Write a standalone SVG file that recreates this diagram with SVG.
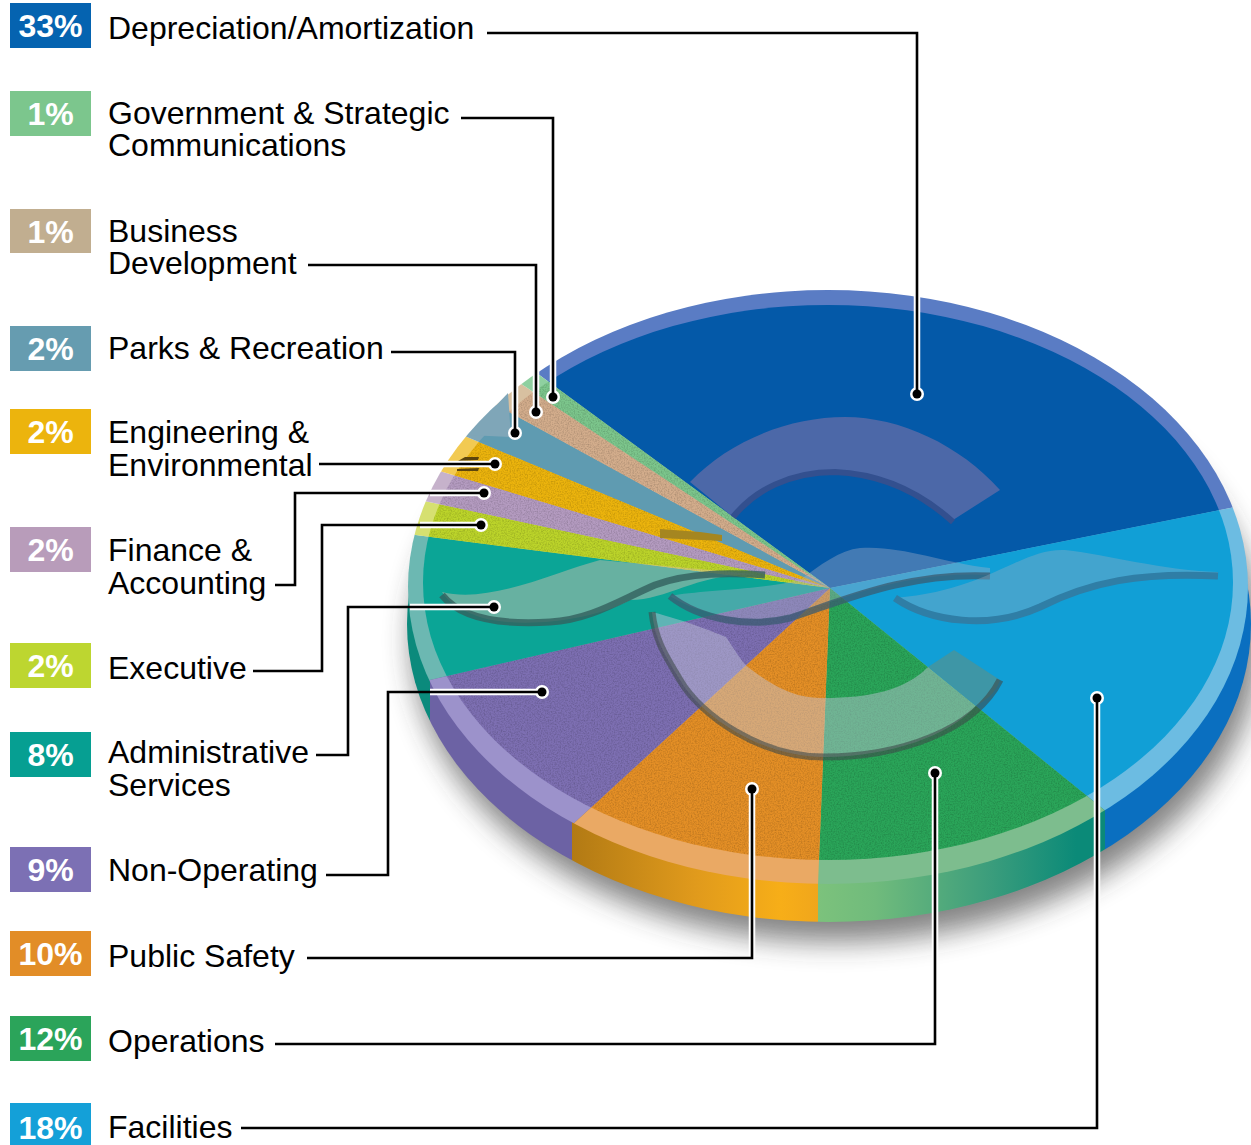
<svg xmlns="http://www.w3.org/2000/svg" width="1251" height="1145" viewBox="0 0 1251 1145">
<style>
.pct{font:bold 32px "Liberation Sans",Arial,sans-serif;fill:#fff;text-anchor:middle}
.lbl{font:32px "Liberation Sans",Arial,sans-serif;fill:#000}
.halo{fill:none;stroke:#fff;stroke-width:6.5}
.line{fill:none;stroke:#000;stroke-width:2.6}
.dotw{fill:#fff}
.dot{fill:#000}
</style>
<defs>
<clipPath id="sideClip"><ellipse cx="829" cy="624" rx="422" ry="298"/></clipPath>
<clipPath id="rimClip"><ellipse cx="828" cy="587" rx="420" ry="297"/></clipPath>
<clipPath id="faceClip"><ellipse cx="828" cy="582.5" rx="405" ry="277.5"/></clipPath>
<filter id="soft" x="-20%" y="-20%" width="140%" height="140%"><feGaussianBlur stdDeviation="14"/></filter>
<filter id="grain" x="0" y="0" width="100%" height="100%"><feTurbulence type="fractalNoise" baseFrequency=".7" numOctaves="2" seed="4"/><feColorMatrix type="matrix" values="0 0 0 0 0  0 0 0 0 0  0 0 0 0 0  1.6 0 0 0 -.62"/><feComposite in2="SourceAlpha" operator="in"/></filter>
<linearGradient id="sideOrange" gradientUnits="userSpaceOnUse" x1="572" y1="0" x2="818" y2="0"><stop offset="0" stop-color="#b27a14"/><stop offset=".5" stop-color="#e09a1c"/><stop offset=".85" stop-color="#f7ae18"/><stop offset="1" stop-color="#f0a61c"/></linearGradient>
<linearGradient id="sideGreen" gradientUnits="userSpaceOnUse" x1="818" y1="0" x2="1105" y2="0"><stop offset="0" stop-color="#7cc27c"/><stop offset=".2" stop-color="#70bb7c"/><stop offset=".6" stop-color="#3b9d7c"/><stop offset=".9" stop-color="#0b8a78"/><stop offset="1" stop-color="#0b8a78"/></linearGradient>
<polygon id="wDep" points="830,588 284,188 284,-100 1400,-100 1330,488"/>
<polygon id="wFac" points="830,588 1330,488 1500,488 1500,1012 1354,1012"/>
<polygon id="wOps" points="830,588 1354,1012 1354,1300 806,1300 806,1182"/>
<polygon id="wPub" points="830,588 806,1182 806,1300 314,1300 314,1062"/>
<polygon id="wNon" points="830,588 314,1062 30,1062 30,772"/>
<polygon id="wAdm" points="830,588 30,772 0,772 0,482"/>
<polygon id="wExe" points="830,588 0,482 10,412"/>
<polygon id="wFin" points="830,588 10,412 56,356"/>
<polygon id="wEng" points="830,588 56,356 104,286"/>
<polygon id="wPar" points="830,588 104,286 210,248"/>
<polygon id="wBus" points="830,588 210,248 270,218"/>
<polygon id="wGov" points="830,588 270,218 284,188"/>
</defs>

<g id="pie">
  <ellipse cx="836" cy="640" rx="424" ry="302" fill="#333" opacity=".6" filter="url(#soft)"/>
  <g id="pie-side" clip-path="url(#sideClip)">
    <rect x="400" y="560" width="30" height="400" fill="#0b8a7c"/>
    <rect x="430" y="560" width="142" height="400" fill="#6c62a4"/>
    <rect x="572" y="560" width="246" height="400" fill="url(#sideOrange)"/>
    <rect x="818" y="560" width="287" height="400" fill="url(#sideGreen)"/>
    <rect x="1105" y="560" width="160" height="400" fill="#0a6fc0"/>
  </g>
  <g id="pie-rim" clip-path="url(#rimClip)">
    <use href="#wDep" fill="#5a7cc4"/>
    <use href="#wFac" fill="#6cbce2"/>
    <use href="#wOps" fill="#7dbd8e"/>
    <use href="#wPub" fill="#eaa964"/>
    <use href="#wNon" fill="#9c92cb"/>
    <use href="#wAdm" fill="#6cb8b2"/>
    <use href="#wExe" fill="#d6e070"/>
    <use href="#wFin" fill="#c6b2cb"/>
    <use href="#wEng" fill="#f2ca52"/>
    <use href="#wPar" fill="#7fa6b8"/>
    <use href="#wBus" fill="#d8c0a0"/>
    <use href="#wGov" fill="#8fd0a0"/>
  </g>
  <g id="pie-face" clip-path="url(#faceClip)">
    <use href="#wDep" fill="#0459a8"/>
    <use href="#wFac" fill="#119fd6"/>
    <use href="#wOps" fill="#2aa559"/>
    <use href="#wPub" fill="#e48f26"/>
    <use href="#wNon" fill="#7d6fb2"/>
    <use href="#wAdm" fill="#0ba596"/>
    <use href="#wExe" fill="#bcd42a"/>
    <use href="#wFin" fill="#b49bc0"/>
    <use href="#wEng" fill="#ecb40d"/>
    <use href="#wPar" fill="#5f9bb1"/>
    <use href="#wBus" fill="#d3ad8c"/>
    <use href="#wGov" fill="#7cc68c"/>
    <g filter="url(#grain)" opacity=".22">
      <use href="#wOps"/><use href="#wPub"/><use href="#wNon"/><use href="#wExe"/><use href="#wFin"/><use href="#wEng"/><use href="#wBus"/><use href="#wGov"/>
    </g>
  </g>
  <polygon points="468,435 508,393 511,437" fill="#7fa6b8"/>
  <g id="pie-logo">
    <path d="M690,482 C730,440 790,417 845,417 C900,417 960,445 1000,490 L953,520 C920,490 880,472 835,470 C790,470 755,490 733,517 Z" fill="#4c68a8"/>
    <path d="M733,517 C755,490 790,472 835,472 C880,474 920,492 953,522" fill="none" stroke="#33508f" stroke-width="6"/>
    <polygon points="660,529 700,532 722,535 722,541 660,538" fill="#a58620"/>
    <path d="M652,612 C690,622 708,630 726,637 C735,650 740,660 748,667 C780,692 800,698 824,698 C870,698 905,690 928,667 L976,706 C950,735 890,757 824,757 C760,757 700,715 680,680 C665,655 655,640 652,612 Z" fill="#c5c7dc" opacity=".45"/>
    <path d="M928,667 L954,650 L1000,680 C995,695 985,700 976,706 Z" fill="#3e96a6"/>
    <path d="M652,612 C655,640 665,655 680,680 C700,715 760,757 824,757 C900,757 975,730 1000,680" fill="none" stroke="#3d4a4a" stroke-width="7" opacity=".6"/>
    <path d="M442,592 C490,604 555,572 600,560 L765,575 C700,570 670,600 630,600 C590,622 520,628 483,618 C465,612 450,605 442,592 Z" fill="#e8c0b0" opacity=".42"/>
    <path d="M442,595 C460,618 500,625 550,622 C590,620 620,600 655,585 C690,572 730,573 765,575" fill="none" stroke="#33605e" stroke-width="7" opacity=".8"/>
    <path d="M670,596 C700,615 750,625 790,615 C840,600 905,570 990,575 L990,568 C940,562 900,545 860,548 C840,550 820,565 800,580 C760,590 700,590 670,596 Z" fill="#a8b0c8" opacity=".38"/>
    <path d="M670,596 C700,620 750,628 790,618 C840,602 905,572 990,576" fill="none" stroke="#3a5b70" stroke-width="7" opacity=".75"/>
    <path d="M895,598 C930,620 990,628 1040,605 C1090,580 1140,570 1218,578 L1218,572 C1160,570 1110,555 1065,550 C1020,548 990,590 895,598 Z" fill="#a0b0c0" opacity=".35"/>
    <path d="M895,598 C930,622 990,630 1040,607 C1090,582 1140,572 1218,576" fill="none" stroke="#2f7ea6" stroke-width="7"/>
    <polygon points="458,461 465,457 479,457 478,460" fill="#5c450c"/>
    <polygon points="457,469 479,468 478,471 457,471" fill="#5c450c"/>
  </g>
</g>

<g id="connectors">
  <g class="halo">
    <path d="M917,33V394"/><path d="M553,118V397"/><path d="M536,265V412"/><path d="M515,352V433"/>
    <path d="M440,464H495"/><path d="M430,493H484"/><path d="M420,525H481"/><path d="M410,607H494"/><path d="M430,692H542"/>
    <path d="M752,958V789"/><path d="M935,1044V773"/><path d="M1097,1128V698"/>
  </g>
  <g class="dotw">
    <circle cx="917" cy="394" r="7"/><circle cx="553" cy="397" r="7"/><circle cx="536" cy="412" r="7"/><circle cx="515" cy="433" r="7"/>
    <circle cx="495" cy="464" r="7"/><circle cx="484" cy="493" r="7"/><circle cx="481" cy="525" r="7"/><circle cx="494" cy="607" r="7"/><circle cx="542" cy="692" r="7"/>
    <circle cx="752" cy="789" r="7"/><circle cx="935" cy="773" r="7"/><circle cx="1097" cy="698" r="7"/>
  </g>
  <g class="line">
    <path d="M487,33H917V394"/>
    <path d="M461,118H553V397"/>
    <path d="M308,265H536V412"/>
    <path d="M391,352H515V433"/>
    <path d="M319,464H495"/>
    <path d="M275,585H295V493H484"/>
    <path d="M253,671H322V525H481"/>
    <path d="M316,755H348V607H494"/>
    <path d="M326,875H388V692H542"/>
    <path d="M307,958H752V789"/>
    <path d="M275,1044H935V773"/>
    <path d="M241,1128H1097V698"/>
  </g>
  <g class="dot">
    <circle cx="917" cy="394" r="4.5"/><circle cx="553" cy="397" r="4.5"/><circle cx="536" cy="412" r="4.5"/><circle cx="515" cy="433" r="4.5"/>
    <circle cx="495" cy="464" r="4.5"/><circle cx="484" cy="493" r="4.5"/><circle cx="481" cy="525" r="4.5"/><circle cx="494" cy="607" r="4.5"/><circle cx="542" cy="692" r="4.5"/>
    <circle cx="752" cy="789" r="4.5"/><circle cx="935" cy="773" r="4.5"/><circle cx="1097" cy="698" r="4.5"/>
  </g>
</g>

<g id="n-depreciation"><rect x="10" y="3" width="81" height="45" fill="#0563b0"/><text class="pct" x="50.5" y="37">33%</text><text class="lbl" x="108" y="39">Depreciation/Amortization</text></g>
<g id="n-government"><rect x="10" y="91" width="81" height="45" fill="#7cc68d"/><text class="pct" x="50.5" y="125">1%</text><text class="lbl" x="108" y="124">Government &amp; Strategic</text><text class="lbl" x="108" y="156">Communications</text></g>
<g id="n-business"><rect x="10" y="209" width="81" height="44" fill="#c1ae90"/><text class="pct" x="50.5" y="243">1%</text><text class="lbl" x="108" y="242">Business</text><text class="lbl" x="108" y="274">Development</text></g>
<g id="n-parks"><rect x="10" y="326" width="81" height="45" fill="#669cb0"/><text class="pct" x="50.5" y="360">2%</text><text class="lbl" x="108" y="359">Parks &amp; Recreation</text></g>
<g id="n-engineering"><rect x="10" y="409" width="81" height="45" fill="#ecb40d"/><text class="pct" x="50.5" y="443">2%</text><text class="lbl" x="108" y="443">Engineering &amp;</text><text class="lbl" x="108" y="476">Environmental</text></g>
<g id="n-finance"><rect x="10" y="527" width="81" height="45" fill="#b89cba"/><text class="pct" x="50.5" y="561">2%</text><text class="lbl" x="108" y="561">Finance &amp;</text><text class="lbl" x="108" y="594">Accounting</text></g>
<g id="n-executive"><rect x="10" y="643" width="81" height="45" fill="#bdd630"/><text class="pct" x="50.5" y="677">2%</text><text class="lbl" x="108" y="679">Executive</text></g>
<g id="n-administrative"><rect x="10" y="732" width="81" height="45" fill="#069f92"/><text class="pct" x="50.5" y="766">8%</text><text class="lbl" x="108" y="763">Administrative</text><text class="lbl" x="108" y="796">Services</text></g>
<g id="n-nonoperating"><rect x="10" y="847" width="81" height="45" fill="#7c70b4"/><text class="pct" x="50.5" y="881">9%</text><text class="lbl" x="108" y="881">Non-Operating</text></g>
<g id="n-publicsafety"><rect x="10" y="931" width="81" height="45" fill="#e28d27"/><text class="pct" x="50.5" y="965">10%</text><text class="lbl" x="108" y="967">Public Safety</text></g>
<g id="n-operations"><rect x="10" y="1016" width="81" height="45" fill="#2ba45a"/><text class="pct" x="50.5" y="1050">12%</text><text class="lbl" x="108" y="1052">Operations</text></g>
<g id="n-facilities"><rect x="10" y="1103" width="81" height="42" fill="#14a0d8"/><text class="pct" x="50.5" y="1139">18%</text><text class="lbl" x="108" y="1138">Facilities</text></g>
</svg>
